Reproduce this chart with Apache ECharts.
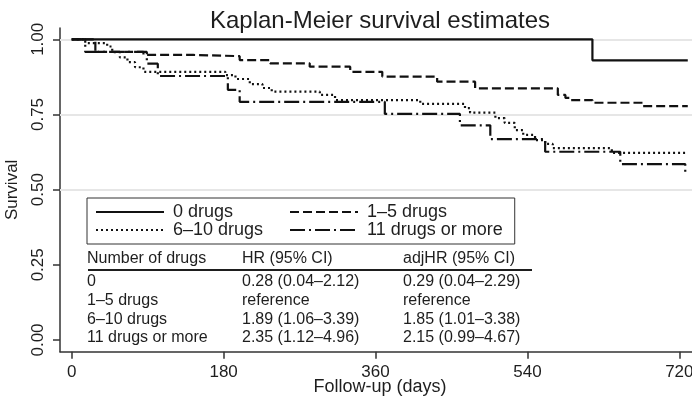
<!DOCTYPE html>
<html>
<head>
<meta charset="utf-8">
<script src="https://cdn.jsdelivr.net/npm/echarts@6/dist/echarts.min.js"></script>
<style>
html,body{margin:0;padding:0;background:#fff;}
#c{width:692px;height:397px;}
</style>
</head>
<body>
<div id="c"></div>
<script>
// ---- data ----
const seriesNames = ['0 drugs', '1–5 drugs', '6–10 drugs', '11 drugs or more'];

const drugs0Days = [0, 617, 730];
const drugs0Surv = [1.0, 0.930, 0.930];

const drugs1to5Days = [0, 28, 85, 144, 199, 235, 282, 330, 368, 433, 478, 576, 585, 591, 617, 677, 730];
const drugs1to5Surv = [1.0, 0.958, 0.948, 0.944, 0.931, 0.920, 0.909, 0.892, 0.876, 0.859, 0.837, 0.815, 0.805, 0.798, 0.789, 0.778, 0.778];

const drugs6to10Days = [0, 16, 42, 48, 57, 66, 75, 85, 182, 194, 211, 226, 237, 294, 312, 413, 466, 472, 502, 513, 525, 535, 549, 561, 570, 640, 730];
const drugs6to10Surv = [1.0, 0.987, 0.976, 0.957, 0.940, 0.924, 0.907, 0.892, 0.881, 0.868, 0.851, 0.838, 0.826, 0.815, 0.798, 0.785, 0.771, 0.756, 0.738, 0.722, 0.698, 0.682, 0.665, 0.652, 0.638, 0.622, 0.622];

const drugs11Days = [0, 16, 89, 102, 185, 199, 371, 460, 496, 561, 650, 727, 731];
const drugs11Surv = [1.0, 0.958, 0.919, 0.878, 0.832, 0.792, 0.752, 0.714, 0.668, 0.626, 0.585, 0.559, 0.559];

const xTicks = [0, 180, 360, 540, 720];
const yTicks = [0, 0.25, 0.5, 0.75, 1];
const gridValues = [0.5, 0.75, 1];

const tableHeader = ['Number of drugs', 'HR (95% CI)', 'adjHR (95% CI)'];
const tableGroups = ['0', '1–5 drugs', '6–10 drugs', '11 drugs or more'];
const tableHR = ['0.28 (0.04–2.12)', 'reference', '1.89 (1.06–3.39)', '2.35 (1.12–4.96)'];
const tableAdjHR = ['0.29 (0.04–2.29)', 'reference', '1.85 (1.01–3.38)', '2.15 (0.99–4.67)'];

// ---- chart ----
const FONT = '"Liberation Sans", Arial, Helvetica, sans-serif';
const INK = '#1e1e1e';

function pairs(d, s) { return d.map((v, i) => [v, s[i]]); }

const styles = [
  { type: 'solid', width: 2.2 },
  { type: [9, 4], width: 2.2 },
  { type: [2, 3], width: 2.2 },
  { type: [15, 4, 2, 4], width: 2.2 }
];
const dataSets = [
  pairs(drugs0Days, drugs0Surv),
  pairs(drugs1to5Days, drugs1to5Surv),
  pairs(drugs6to10Days, drugs6to10Surv),
  pairs(drugs11Days, drugs11Surv)
];

const series = [{
  name: 'grid',
  type: 'line',
  data: [],
  symbol: 'none',
  z: 1,
  markLine: {
    silent: true,
    z: 1,
    symbol: 'none',
    label: { show: false },
    lineStyle: { color: '#e6e6e6', width: 2, type: 'solid' },
    data: gridValues.map(v => ({ yAxis: v })),
    animation: false
  }
}];

dataSets.forEach((d, i) => series.push({
  name: seriesNames[i],
  type: 'line',
  step: 'end',
  symbol: 'none',
  data: d,
  z: 3,
  lineStyle: { color: '#111', width: styles[i].width, type: styles[i].type, cap: 'butt' },
  itemStyle: { color: '#111' },
  emphasis: { disabled: true },
  animation: false
}));

// table graphics
const colX = [87, 242, 403];
const headerY = 259;
const rowY0 = 282;
const rowStep = 18.6;
const tableFont = '16px ' + FONT;
const graphics = [];
function txt(x, y, t) {
  graphics.push({
    type: 'text', x: x, y: y, silent: true,
    style: { text: t, font: tableFont, fill: INK, textAlign: 'left', align: 'left', textVerticalAlign: 'middle', verticalAlign: 'middle' }
  });
}
tableHeader.forEach((h, i) => txt(colX[i], headerY, h));
graphics.push({ type: 'line', silent: true, shape: { x1: 88, y1: 270, x2: 532, y2: 270 }, style: { stroke: INK, lineWidth: 2 } });
tableGroups.forEach((g, r) => {
  const y = rowY0 + r * rowStep;
  txt(colX[0], y, g);
  txt(colX[1], y, tableHR[r]);
  txt(colX[2], y, tableAdjHR[r]);
});

const chart = echarts.init(document.getElementById('c'), null, { renderer: 'canvas' });
chart.setOption({
  animation: false,
  backgroundColor: '#fff',
  title: {
    text: 'Kaplan-Meier survival estimates',
    left: 380, top: 9, textAlign: 'center', padding: 0,
    textStyle: { fontFamily: FONT, fontSize: 24, fontWeight: 'normal', color: INK }
  },
  legend: {
    data: seriesNames,
    left: 87, top: 198,
    width: 430,
    orient: 'horizontal',
    padding: [5, 12, 5, 8],
    itemGap: 0,
    itemWidth: 68,
    itemHeight: 12,
    backgroundColor: '#fff',
    borderColor: '#333',
    borderWidth: 1,
    selectedMode: false,
    itemStyle: { color: 'rgba(0,0,0,0)', borderColor: 'rgba(0,0,0,0)', borderWidth: 0, opacity: 0 },
    textStyle: { fontFamily: FONT, fontSize: 18, color: INK, width: 116, lineHeight: 17, padding: [0, 0, 0, 4] },
    z: 10
  },
  grid: { left: 60, right: 0, top: 28, bottom: 45.3, containLabel: false, outerBoundsMode: 'none' },
  xAxis: {
    type: 'value',
    min: -13.9, max: 735,
    name: 'Follow-up (days)',
    nameLocation: 'middle',
    nameGap: 26,
    nameMoveOverlap: false,
    nameTextStyle: { fontFamily: FONT, fontSize: 18, color: INK, padding: [0, 0, 0, 8] },
    axisLine: { show: true, onZero: false, lineStyle: { color: '#333', width: 1.5 } },
    axisTick: { show: true, length: 7, customValues: xTicks, lineStyle: { color: '#333', width: 1.5 } },
    axisLabel: { customValues: xTicks, margin: 12, fontFamily: FONT, fontSize: 17, color: INK, hideOverlap: false },
    splitLine: { show: false }
  },
  yAxis: {
    type: 'value',
    min: -0.0389, max: 1.0376,
    name: 'Survival',
    nameLocation: 'middle',
    nameGap: 39,
    nameMoveOverlap: false,
    nameTextStyle: { fontFamily: FONT, fontSize: 17, color: INK },
    axisLine: { show: true, onZero: false, lineStyle: { color: '#333', width: 1.5 } },
    axisTick: { show: true, length: 7, customValues: yTicks, lineStyle: { color: '#333', width: 1.5 } },
    axisLabel: { customValues: yTicks, rotate: 90, margin: 13, fontFamily: FONT, fontSize: 17, color: INK,
      formatter: v => v.toFixed(2) },
    splitLine: { show: false }
  },
  graphic: { elements: graphics },
  series: series
});
</script>
</body>
</html>
